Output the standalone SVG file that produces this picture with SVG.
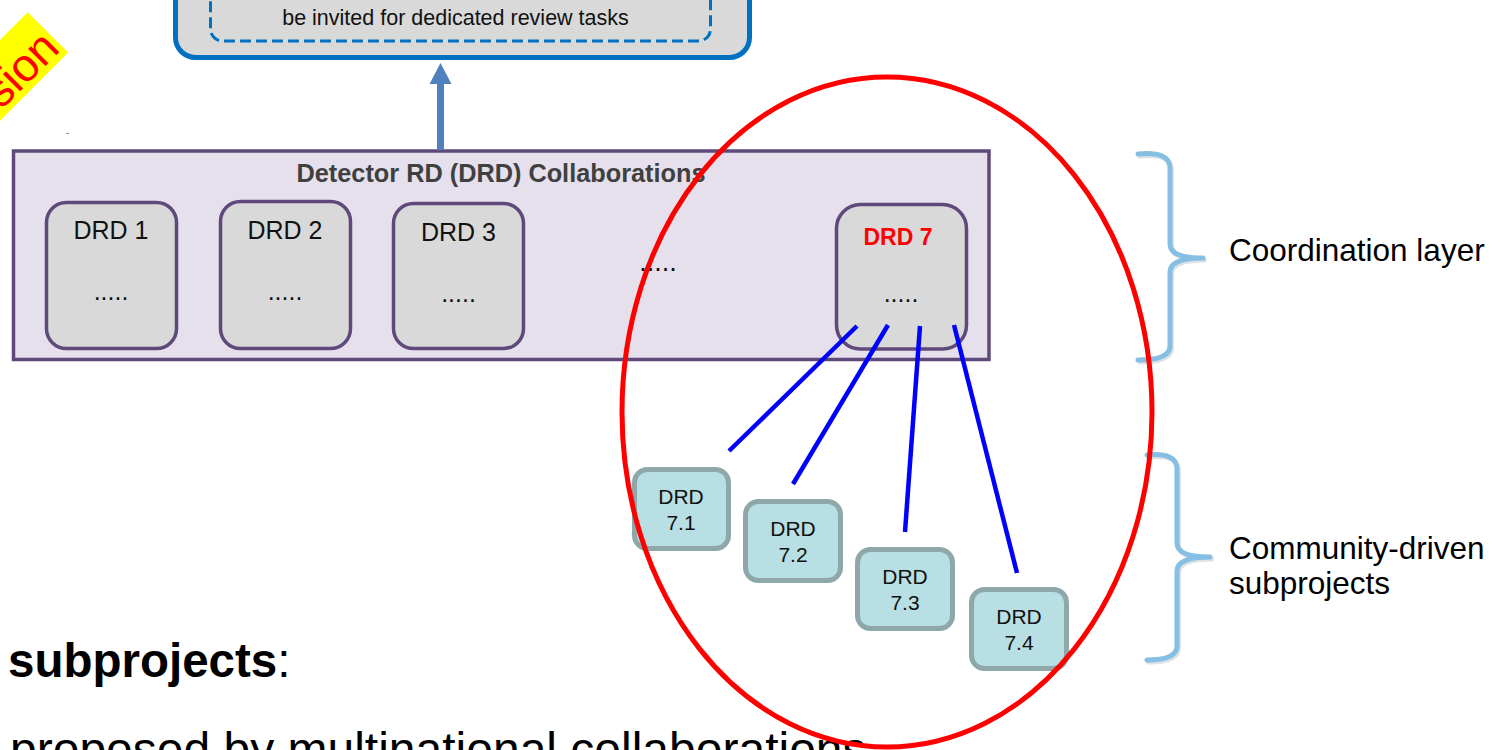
<svg xmlns="http://www.w3.org/2000/svg" width="1503" height="750" viewBox="0 0 1503 750">
  <defs>
    <style>
      .sans { font-family: "Liberation Sans", Arial, sans-serif; }
      .drd { fill: #d9d9d9; stroke: #5f497a; stroke-width: 3.5; }
      .drd-label { font-size: 25px; fill: #111; text-anchor: middle; }
      .sub { fill: #b8dfe3; stroke: #8ea8aa; stroke-width: 5; }
      .sub-label { font-size: 21px; fill: #111; text-anchor: middle; }
      .link { stroke: #0000ff; stroke-width: 4.5; stroke-linecap: butt; fill: none; }
      .brace { fill: none; stroke: #85bfe3; stroke-width: 5; stroke-linecap: round; stroke-linejoin: round; }
      .brace-shade { fill: none; stroke: #b9c3cc; stroke-width: 5; stroke-linecap: round; stroke-linejoin: round; opacity: 0.5; }
      .side-label { font-size: 31.5px; fill: #000; }
    </style>
  </defs>

  <rect x="0" y="0" width="1503" height="750" fill="#ffffff"/>

  <!-- tilted banner in the corner -->
  <g id="banner" transform="translate(46.5,31) rotate(-45)">
    <rect x="-220" y="-26.5" width="220" height="57" fill="#ffff00"/>
    <text class="sans" x="-3" y="24" font-size="46" fill="#ff0000" text-anchor="end">sion</text>
  </g>
  <rect x="66" y="133" width="3" height="1" fill="#8a8a8a"/>

  <!-- review box at the top -->
  <g id="review-box">
    <rect x="175.5" y="-40" width="574" height="97.5" rx="20" fill="#d9d9d9" stroke="#0070c0" stroke-width="5"/>
    <rect x="210.5" y="-30" width="500" height="71" rx="12" fill="none" stroke="#0070c0" stroke-width="3" stroke-dasharray="11 5"/>
    <text class="sans" x="455.5" y="25" font-size="21.5" fill="#111" text-anchor="middle">be invited for dedicated review tasks</text>
  </g>

  <!-- DRD collaborations layer -->
  <g id="drd-collaborations">
    <rect x="13.5" y="151" width="975.5" height="208.5" fill="#e5e0ec" stroke="#5f497a" stroke-width="3.5"/>
    <text class="sans" x="501" y="182" font-size="25.3" font-weight="bold" fill="#404040" text-anchor="middle">Detector RD (DRD) Collaborations</text>
    <text class="sans" x="658" y="271" font-size="27" fill="#111" text-anchor="middle">.....</text>
  </g>

  <g id="drd1">
    <rect class="drd" x="46.5" y="202.5" width="130" height="146" rx="20"/>
    <text class="sans drd-label" x="111" y="239">DRD 1</text>
    <text class="sans drd-label" x="111" y="300">.....</text>
  </g>
  <g id="drd2">
    <rect class="drd" x="220.5" y="201.5" width="130" height="147" rx="20"/>
    <text class="sans drd-label" x="285" y="239">DRD 2</text>
    <text class="sans drd-label" x="285" y="300">.....</text>
  </g>
  <g id="drd3">
    <rect class="drd" x="393.5" y="203.5" width="130" height="145" rx="20"/>
    <text class="sans drd-label" x="458.5" y="241">DRD 3</text>
    <text class="sans drd-label" x="458.5" y="302">.....</text>
  </g>
  <g id="drd7">
    <rect class="drd" x="836.5" y="204.5" width="130" height="144.5" rx="24"/>
    <text class="sans" x="898" y="245" font-size="23" font-weight="bold" fill="#ff0000" text-anchor="middle">DRD 7</text>
    <text class="sans drd-label" x="901" y="302">.....</text>
  </g>

  <!-- subprojects -->
  <g id="drd7-1">
    <rect class="sub" x="634.5" y="469.5" width="94" height="79" rx="13"/>
    <text class="sans sub-label" x="681" y="504">DRD</text>
    <text class="sans sub-label" x="681" y="530">7.1</text>
  </g>
  <g id="drd7-2">
    <rect class="sub" x="745.5" y="501.5" width="95" height="79" rx="13"/>
    <text class="sans sub-label" x="793" y="536">DRD</text>
    <text class="sans sub-label" x="793" y="562">7.2</text>
  </g>
  <g id="drd7-3">
    <rect class="sub" x="857.5" y="549.5" width="95" height="79" rx="13"/>
    <text class="sans sub-label" x="905" y="584">DRD</text>
    <text class="sans sub-label" x="905" y="610">7.3</text>
  </g>
  <g id="drd7-4">
    <rect class="sub" x="971.5" y="589.5" width="95" height="79" rx="13"/>
    <text class="sans sub-label" x="1019" y="624">DRD</text>
    <text class="sans sub-label" x="1019" y="650">7.4</text>
  </g>

  <!-- connectors -->
  <g id="connectors">
    <line x1="440.5" y1="150" x2="440.5" y2="80" stroke="#4f81bd" stroke-width="7"/>
    <polygon points="440.5,63 429.5,84 451.5,84" fill="#4f81bd"/>
    <line class="link" x1="857" y1="326" x2="729" y2="451"/>
    <line class="link" x1="888" y1="325" x2="793" y2="484"/>
    <line class="link" x1="920" y1="326" x2="905" y2="532"/>
    <line class="link" x1="954" y1="325" x2="1017" y2="573"/>
  </g>

  <!-- layer braces and labels -->
  <g id="coordination-layer">
    <path class="brace-shade" transform="translate(1.5,2)" d="M1138,154 Q1170,151 1170,168 L1170,244 Q1170,258 1203,258 Q1170,258 1170,272 L1170,346 Q1170,360 1138,360"/>
    <path class="brace" d="M1138,154 Q1170,151 1170,168 L1170,244 Q1170,258 1203,258 Q1170,258 1170,272 L1170,346 Q1170,360 1138,360"/>
    <text class="sans side-label" x="1229" y="261">Coordination layer</text>
  </g>
  <g id="community-subprojects">
    <path class="brace-shade" transform="translate(1.5,2)" d="M1147,455 Q1177,452 1177,469 L1177,543 Q1177,557 1210,557 Q1177,557 1177,571 L1177,646 Q1177,660 1147,660"/>
    <path class="brace" d="M1147,455 Q1177,452 1177,469 L1177,543 Q1177,557 1210,557 Q1177,557 1177,571 L1177,646 Q1177,660 1147,660"/>
    <text class="sans side-label" x="1229" y="559">Community-driven</text>
    <text class="sans side-label" x="1229" y="594">subprojects</text>
  </g>

  <!-- body text -->
  <g id="body-text">
    <text class="sans" x="8" y="677" font-size="47.5" fill="#000"><tspan font-weight="bold">subprojects</tspan>:</text>
    <text class="sans" x="10" y="766" font-size="48" fill="#000">proposed by multinational collaborations</text>
  </g>

  <!-- highlight around DRD 7 -->
  <ellipse id="drd7-highlight" cx="887" cy="412" rx="265" ry="335" fill="none" stroke="#ff0000" stroke-width="5"/>
</svg>
